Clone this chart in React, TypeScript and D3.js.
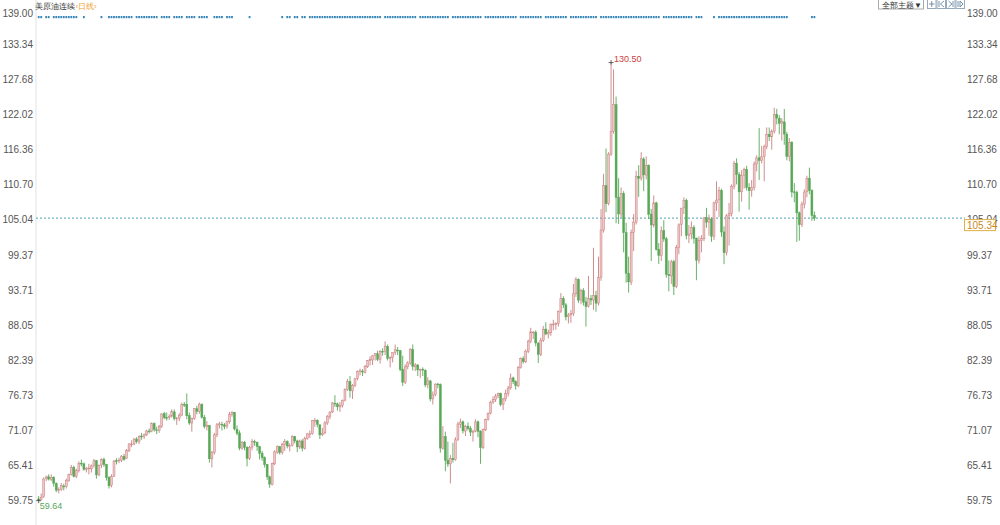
import React, { useEffect } from 'react';
import * as d3 from 'd3';

// 美原油连续 日线 — daily candles
const closes = [
  59.70, 60.18, 63.15, 63.46, 63.13, 63.38, 62.44, 61.35, 61.43, 62.14,
  61.91, 62.94, 63.86, 65.01, 63.58, 64.49, 65.69, 65.63, 64.71, 64.90,
  64.92, 65.28, 66.08, 63.82, 65.37, 66.27, 65.49, 63.36, 62.05, 63.58,
  66.05, 66.07, 66.21, 66.85, 66.32, 67.72, 68.83, 68.81, 69.62, 69.23,
  70.05, 69.96, 70.29, 70.91, 70.88, 72.12, 71.15, 71.04, 71.64, 73.66,
  73.06, 73.08, 73.30, 74.05, 72.91, 72.98, 73.47, 75.23, 75.16, 73.37,
  72.20, 72.94, 74.56, 74.10, 75.25, 73.13, 71.65, 71.81, 66.42, 67.42,
  70.30, 71.91, 72.07, 71.91, 71.65, 72.39, 73.62, 73.95, 71.26, 70.56,
  68.15, 69.09, 68.28, 66.48, 68.29, 69.25, 69.09, 68.44, 67.29, 66.59,
  65.46, 63.50, 62.32, 65.64, 67.54, 68.36, 67.42, 68.74, 69.21, 68.50,
  68.59, 69.99, 69.29, 68.35, 69.30, 68.14, 69.72, 70.45, 70.46, 72.61,
  72.61, 71.97, 70.29, 70.56, 72.23, 73.30, 73.98, 75.45, 75.29, 74.83,
  75.03, 75.88, 77.62, 78.93, 77.43, 78.30, 79.35, 80.52, 80.64, 80.44,
  81.31, 82.28, 82.44, 83.07, 83.42, 82.50, 83.76, 83.76, 84.65, 82.66,
  82.81, 83.57, 84.05, 83.91, 80.86, 78.81, 81.27, 81.93, 84.15, 81.34,
  81.59, 80.79, 80.88, 80.76, 78.36, 79.01, 76.10, 76.75, 78.50, 78.39,
  68.15, 69.95, 66.18, 65.57, 66.50, 66.26, 69.49, 72.05, 72.36, 70.94,
  71.67, 71.29, 70.73, 70.87, 72.38, 70.86, 68.23, 71.12, 72.76, 73.79,
  75.57, 75.98, 76.56, 76.99, 75.21, 76.08, 76.99, 77.85, 79.46, 78.90,
  78.23, 81.22, 82.64, 82.12, 83.82, 85.43, 86.96, 86.90, 85.14, 83.31,
  85.60, 87.35, 86.61, 86.82, 88.15, 88.20, 88.26, 90.27, 92.31, 91.32,
  89.36, 89.66, 89.88, 93.10, 95.46, 92.07, 93.66, 91.76, 91.07, 92.35,
  92.10, 92.81, 91.59, 95.72, 103.41, 110.60, 107.67, 115.68, 119.40, 123.70,
  108.70, 106.02, 109.33, 103.01, 96.44, 95.04, 102.98, 104.70, 112.12, 111.76,
  114.93, 112.34, 113.90, 105.96, 104.24, 107.82, 100.28, 99.27, 103.28, 101.96,
  96.23, 96.03, 98.26, 94.29, 100.60, 104.25, 106.95, 108.21, 102.56, 102.75,
  103.79, 102.07, 98.54, 101.70, 102.02, 105.36, 104.69, 105.17, 102.41, 107.81,
  108.26, 109.77, 103.09, 99.76, 105.71, 106.13, 110.49, 114.20, 112.40, 109.59,
  112.21, 113.23, 110.29, 109.77, 110.33, 114.09, 115.07, 114.67, 115.26, 116.87,
  118.87, 118.50, 119.41, 122.11, 121.51, 120.67, 120.93, 118.93, 115.31, 117.59,
  109.56, 109.52, 106.19, 104.27, 107.62, 109.57, 111.76, 109.78, 105.76, 105.34,
];

const opens = [
  59.90, 59.80, 60.30, 63.20, 63.50, 63.10, 63.40, 62.40, 61.30, 61.50,
  62.00, 61.90, 62.90, 63.90, 65.00, 63.60, 64.50, 65.70, 65.60, 64.70,
  64.90, 64.80, 65.30, 66.10, 63.80, 65.40, 66.30, 65.50, 63.40, 62.10,
  63.60, 66.10, 66.10, 66.20, 66.80, 66.50, 67.70, 68.80, 68.80, 69.60,
  69.20, 70.10, 70.00, 70.30, 70.90, 70.90, 72.10, 71.10, 71.00, 71.60,
  73.70, 73.10, 73.10, 73.30, 74.00, 72.90, 73.00, 73.50, 75.20, 75.20,
  73.40, 72.20, 72.90, 74.50, 74.10, 75.20, 73.10, 71.60, 71.80, 66.40,
  67.40, 70.30, 71.90, 72.00, 71.90, 71.70, 72.40, 73.60, 73.90, 71.20,
  70.60, 68.10, 69.10, 68.30, 66.50, 68.30, 69.20, 69.10, 68.40, 67.30,
  66.60, 65.50, 63.50, 62.30, 65.60, 67.50, 68.40, 67.40, 68.70, 69.20,
  68.50, 68.60, 70.00, 69.30, 68.30, 69.30, 68.10, 69.70, 70.40, 70.50,
  72.60, 72.60, 71.90, 70.30, 70.60, 72.20, 73.30, 74.00, 75.40, 75.30,
  74.80, 75.00, 75.90, 77.60, 78.90, 77.40, 78.30, 79.40, 80.50, 80.60,
  80.40, 81.30, 82.30, 82.40, 83.10, 83.40, 82.50, 83.80, 83.80, 84.60,
  82.70, 82.80, 83.60, 84.00, 83.90, 80.90, 78.80, 81.30, 81.90, 84.10,
  81.30, 81.60, 80.80, 80.90, 80.70, 78.40, 79.00, 76.10, 76.80, 78.50,
  78.40, 68.10, 70.00, 66.20, 65.60, 66.50, 66.30, 69.50, 72.00, 72.40,
  70.90, 71.70, 71.30, 70.70, 70.90, 72.40, 70.90, 68.20, 71.10, 72.80,
  73.80, 75.60, 76.00, 76.60, 77.00, 75.20, 76.10, 77.00, 77.90, 79.50,
  78.90, 78.20, 81.20, 82.60, 82.10, 83.80, 85.40, 86.90, 86.90, 85.10,
  83.30, 85.60, 87.40, 86.60, 86.80, 88.20, 88.20, 88.30, 90.30, 92.30,
  91.30, 89.40, 89.70, 89.90, 93.10, 95.40, 92.10, 93.60, 91.80, 91.10,
  92.30, 92.10, 92.80, 91.60, 95.70, 103.40, 110.60, 107.70, 115.70, 119.40,
  123.70, 108.70, 106.00, 109.30, 103.00, 96.40, 95.00, 103.00, 104.70, 112.10,
  111.80, 114.90, 112.30, 113.90, 106.00, 104.20, 107.80, 100.30, 99.30, 103.30,
  102.00, 96.20, 96.00, 98.30, 94.30, 100.60, 104.30, 107.00, 108.20, 102.50,
  102.80, 103.80, 102.10, 98.50, 101.70, 102.00, 105.40, 104.70, 105.20, 102.40,
  107.80, 108.30, 109.80, 103.10, 99.80, 105.70, 106.10, 110.50, 114.20, 112.40,
  109.60, 112.20, 113.20, 110.30, 109.80, 110.30, 114.10, 115.10, 114.70, 115.30,
  116.90, 118.90, 118.50, 119.40, 122.10, 121.50, 120.70, 120.90, 118.90, 115.30,
  117.60, 109.60, 109.50, 106.20, 104.30, 107.60, 109.60, 111.80, 109.80, 105.80,
];

const highs = [
  60.40, 60.80, 63.40, 63.70, 63.90, 63.90, 63.60, 62.60, 61.80, 62.50,
  62.40, 63.20, 64.00, 65.40, 65.30, 64.80, 66.00, 66.30, 65.80, 65.10,
  65.60, 65.50, 66.40, 66.20, 65.50, 66.50, 66.60, 65.60, 63.60, 63.90,
  66.20, 66.50, 66.60, 67.00, 67.20, 68.00, 68.90, 69.40, 69.80, 69.90,
  70.20, 70.60, 70.50, 71.10, 71.30, 72.30, 72.30, 71.60, 71.90, 73.80,
  74.00, 73.90, 73.60, 74.40, 74.40, 73.20, 73.80, 75.50, 75.60, 76.98,
  73.90, 73.10, 74.60, 75.00, 75.50, 75.40, 73.50, 72.50, 71.90, 67.70,
  70.60, 72.20, 72.40, 72.40, 72.20, 72.60, 74.00, 74.10, 74.00, 71.80,
  71.00, 69.30, 69.30, 68.40, 68.50, 69.60, 69.50, 69.20, 68.50, 67.70,
  66.80, 65.60, 63.70, 65.80, 67.80, 68.60, 68.50, 69.00, 69.60, 69.40,
  68.90, 70.20, 70.10, 69.50, 69.50, 69.60, 70.00, 70.60, 71.00, 72.70,
  73.00, 72.80, 72.00, 71.40, 72.50, 73.50, 74.10, 75.60, 76.70, 75.50,
  75.60, 76.00, 77.80, 79.30, 79.80, 78.50, 79.50, 80.70, 81.00, 80.90,
  81.60, 82.40, 83.00, 83.20, 83.50, 83.90, 84.00, 84.30, 85.41, 84.90,
  83.00, 83.60, 84.90, 84.50, 84.00, 83.10, 81.70, 82.20, 84.30, 84.90,
  81.90, 81.70, 81.00, 81.20, 80.90, 79.60, 79.20, 77.30, 78.60, 78.70,
  78.60, 71.70, 70.80, 69.20, 67.00, 69.00, 69.90, 72.40, 72.90, 72.60,
  71.90, 72.30, 71.70, 71.10, 72.80, 72.60, 71.00, 71.30, 72.90, 73.90,
  75.80, 76.50, 76.90, 77.10, 77.10, 76.30, 77.60, 78.20, 80.20, 79.70,
  79.10, 81.40, 82.80, 83.00, 84.10, 85.70, 87.60, 87.10, 87.20, 85.30,
  86.00, 87.90, 88.50, 87.30, 88.30, 88.90, 88.50, 90.40, 93.20, 92.70,
  91.60, 90.00, 90.50, 94.70, 95.80, 95.60, 93.90, 94.00, 92.60, 96.00,
  92.90, 100.54, 93.60, 99.10, 106.80, 112.50, 116.60, 116.00, 130.50, 129.40,
  125.00, 111.80, 110.30, 109.70, 104.60, 99.10, 103.50, 106.00, 113.00, 113.90,
  116.00, 115.20, 115.30, 114.00, 106.80, 109.00, 108.00, 101.30, 104.00, 105.00,
  102.30, 98.50, 98.60, 98.60, 101.00, 104.50, 107.00, 108.70, 108.50, 104.20,
  104.80, 104.20, 102.20, 102.40, 102.60, 105.50, 107.00, 105.90, 105.50, 108.00,
  111.30, 110.40, 110.10, 104.00, 106.00, 107.80, 110.80, 114.60, 115.00, 112.80,
  113.10, 113.50, 113.80, 111.00, 111.50, 114.50, 115.50, 119.90, 117.00, 117.20,
  120.00, 120.00, 119.70, 123.20, 123.00, 122.00, 121.50, 123.00, 119.30, 118.30,
  117.80, 111.00, 109.80, 106.40, 108.00, 110.00, 112.20, 113.50, 110.00, 106.40,
];

const lows = [
  59.64, 59.70, 60.10, 62.80, 62.90, 62.80, 61.90, 61.00, 60.80, 61.20,
  61.30, 61.60, 62.70, 63.70, 63.40, 63.30, 64.20, 65.20, 64.50, 64.20,
  63.90, 64.20, 65.00, 63.20, 63.60, 64.90, 65.10, 62.90, 61.60, 61.80,
  63.50, 65.50, 65.70, 65.90, 66.10, 66.40, 67.50, 68.30, 68.60, 68.90,
  68.80, 69.50, 69.60, 70.10, 70.50, 70.70, 70.80, 70.40, 70.60, 71.40,
  72.80, 72.60, 72.70, 73.10, 72.60, 71.90, 72.50, 73.30, 74.80, 72.80,
  71.90, 70.80, 72.70, 73.60, 73.70, 72.90, 71.30, 71.00, 65.80, 65.00,
  67.10, 69.90, 71.30, 71.00, 71.20, 71.30, 72.10, 73.20, 71.00, 70.20,
  67.80, 67.90, 67.80, 65.20, 66.20, 67.80, 68.50, 67.70, 66.30, 66.10,
  65.00, 63.00, 61.74, 62.10, 65.40, 67.20, 67.10, 67.10, 67.70, 68.10,
  67.60, 68.40, 68.90, 67.50, 68.00, 67.60, 67.90, 69.50, 69.80, 70.30,
  71.60, 71.50, 69.60, 70.10, 70.40, 71.90, 72.80, 73.80, 74.80, 74.20,
  74.00, 74.70, 75.70, 77.40, 76.30, 76.10, 78.00, 79.10, 79.90, 79.80,
  80.20, 81.10, 81.50, 81.60, 82.30, 82.20, 81.80, 83.10, 83.20, 82.30,
  81.20, 82.00, 83.20, 83.20, 80.60, 78.20, 78.50, 80.90, 81.60, 80.70,
  80.60, 79.80, 79.50, 79.80, 78.00, 77.80, 75.70, 75.20, 76.50, 77.80,
  67.40, 67.90, 64.40, 65.10, 62.43, 65.80, 66.10, 69.30, 71.40, 70.50,
  70.10, 71.00, 70.10, 69.20, 70.70, 69.90, 65.60, 68.00, 70.90, 72.60,
  73.60, 75.30, 75.60, 76.20, 74.90, 74.30, 75.70, 76.50, 77.60, 78.50,
  77.60, 78.00, 81.00, 81.80, 81.90, 83.50, 85.10, 85.80, 84.60, 81.90,
  83.00, 85.30, 86.40, 85.90, 86.30, 87.20, 87.30, 87.80, 90.00, 90.80,
  88.80, 88.30, 88.40, 89.50, 92.60, 91.60, 91.40, 91.20, 87.80, 90.90,
  91.30, 90.50, 90.20, 91.20, 95.20, 103.00, 106.30, 107.40, 115.40, 119.00,
  104.50, 104.40, 105.40, 99.80, 94.90, 93.30, 94.50, 100.00, 104.30, 108.80,
  111.40, 109.70, 111.60, 105.20, 98.40, 103.80, 100.10, 97.90, 98.40, 101.50,
  95.70, 93.50, 94.70, 92.90, 94.00, 99.50, 102.40, 106.00, 101.90, 101.30,
  101.90, 101.20, 95.30, 98.00, 99.80, 101.60, 103.80, 102.50, 101.50, 101.80,
  106.50, 105.50, 102.30, 97.90, 99.30, 100.90, 105.60, 110.00, 110.80, 106.40,
  108.00, 110.10, 109.80, 106.70, 108.80, 109.80, 112.90, 111.50, 114.20, 111.30,
  116.50, 117.80, 116.40, 119.00, 120.50, 118.90, 117.90, 117.20, 114.70, 114.50,
  108.70, 107.90, 101.50, 101.70, 103.90, 106.90, 108.70, 109.20, 104.90, 104.90,
];

// right/left axis tick labels
const yTicks = [59.75, 65.41, 71.07, 76.73, 82.39, 88.05, 93.71, 99.37, 105.04, 110.7, 116.36, 122.02, 127.68, 133.34, 139.0];

// candle index runs that carry an event marker in the top strip
const markerRuns: [number, number][] = [
  [0, 1], [3, 4], [6, 7], [8, 9], [10, 15], [18, 18], [25, 25], [28, 37], [39, 47],
  [49, 52], [54, 57], [59, 62], [64, 67], [70, 73], [75, 77], [84, 84],
  [97, 97], [99, 100], [102, 103], [105, 106], [108, 136], [138, 150], [152, 163],
  [165, 176], [178, 190], [192, 200], [202, 210], [212, 222],
  [224, 229], [230, 247], [249, 260], [262, 264], [269, 269], [271, 298], [308, 309],
];

const lastPrice = 105.34;
const emptySlots = 58;

const upFill = '#efc6c6';
const upStroke = '#c98080';
const downColor = '#58a858';
const axisText = '#555';
const font = '"Liberation Sans", Arial, sans-serif';

export default function App() {
  useEffect(() => {
    document.body.style.margin = '0';
  }, []);

  const W = 1000;
  const H = 525;
  const N = closes.length;

  const x = d3
    .scaleBand<number>()
    .domain(d3.range(N + emptySlots))
    .range([37.7, 961])
    .paddingInner(0.22);
  const y = d3.scaleLinear().domain([59.75, 139]).range([500, 10]);

  const cxOf = (i: number) => (x(i) as number) + x.bandwidth() / 2;
  const maxI = d3.maxIndex(highs);
  const minI = d3.minIndex(lows);
  const markerIdx = markerRuns.flatMap(([a, b]) => d3.range(a, b + 1));

  const yLast = y(lastPrice);

  return (
    <svg
      width={W}
      height={H}
      style={{ display: 'block', position: 'absolute', left: 0, top: 0, background: '#fff' }}
      fontFamily={font}
    >
      {/* axis frame */}
      <line x1={36} x2={36} y1={0} y2={H} stroke="#e3e3e3" />

      {/* tick labels */}
      {yTicks.map((t) => {
        const ty = Math.max(y(t), 13) + 3.5;
        return (
          <g key={t} fontSize={10} fill={axisText}>
            <text x={33} y={ty} textAnchor="end">{t.toFixed(2)}</text>
            <text x={967} y={ty}>{t.toFixed(2)}</text>
          </g>
        );
      })}

      {/* header */}
      <text x={35} y={8.5} fontSize={7.8} fill="#333">美原油连续</text>
      <text x={75.5} y={8.5} fontSize={7.8} fill="#f0a030">‹日线›</text>

      {/* top-right buttons */}
      <g>
        <rect x={878.5} y={-1} width={45} height={10} fill="#fff" stroke="#aaa" />
        <text x={882} y={7.5} fontSize={8} fill="#333">全部主题▼</text>
        {[0, 1, 2, 3].map((k) => (
          <g key={k} transform={`translate(${927.5 + k * 9.5},-1)`}>
            <rect width={8.5} height={9.5} fill="#fff" stroke="#9ab" />
            {k === 0 ? (
              <path d="M4.25,2 V8 M1.5,5 H7" stroke="#579" strokeWidth={0.8} />
            ) : (
              <path
                d={k === 1 ? 'M2,2 V8 M7,2 L3.5,5 L7,8' : k === 2 ? 'M6.5,2 V8 M2,2 L5.5,5 L2,8' : 'M2,2 V8 M4,2 L7,5 L4,8 Z'}
                stroke="#579"
                strokeWidth={0.8}
                fill="none"
              />
            )}
          </g>
        ))}
      </g>

      {/* event marker strip */}
      {markerIdx.map((i) => (
        <rect key={`m${i}`} x={cxOf(i) - 0.9} y={16} width={1.8} height={2.2} fill="#3585b8" />
      ))}

      {/* last price dashed line */}
      <line
        x1={36}
        x2={965}
        y1={yLast}
        y2={yLast}
        stroke="#4f9fb3"
        strokeWidth={1}
        strokeDasharray="2,2"
      />

      {/* candles */}
      {closes.map((c, i) => {
        const o = opens[i];
        const up = c >= o;
        const top = y(Math.max(o, c));
        const bot = y(Math.min(o, c));
        const stroke = up ? upStroke : downColor;
        return (
          <g key={i}>
            <line x1={cxOf(i)} x2={cxOf(i)} y1={y(highs[i])} y2={y(lows[i])} stroke={stroke} strokeWidth={0.9} />
            <rect
              x={x(i)}
              y={top}
              width={x.bandwidth()}
              height={Math.max(0.8, bot - top)}
              fill={up ? upFill : downColor}
              stroke={stroke}
              strokeWidth={0.5}
            />
          </g>
        );
      })}

      {/* extreme markers */}
      <g>
        <path
          d={`M${cxOf(maxI) - 2.5},${y(highs[maxI])} H${cxOf(maxI) + 2.5} M${cxOf(maxI)},${y(highs[maxI]) - 2.5} V${y(highs[maxI]) + 2}`}
          stroke="#444"
          strokeWidth={0.8}
        />
        <text x={cxOf(maxI) + 3} y={y(highs[maxI]) - 1} fontSize={9} fill="#cc4040">
          {highs[maxI].toFixed(2)}
        </text>
        <path
          d={`M${cxOf(minI) - 2.5},${y(lows[minI])} H${cxOf(minI) + 2.5} M${cxOf(minI)},${y(lows[minI]) - 2} V${y(lows[minI]) + 2.5}`}
          stroke="#444"
          strokeWidth={0.8}
        />
        <text x={cxOf(minI) + 1} y={y(lows[minI]) + 8} fontSize={9} fill="#5aa55a">
          {lows[minI].toFixed(2)}
        </text>
      </g>

      {/* last price box */}
      <rect x={964.5} y={yLast + 1.5} width={31} height={11} fill="#fff" stroke="#e2ae48" />
      <text x={967} y={yLast + 10.5} fontSize={10} fill="#c98a22">
        {lastPrice.toFixed(2)}
      </text>
    </svg>
  );
}
